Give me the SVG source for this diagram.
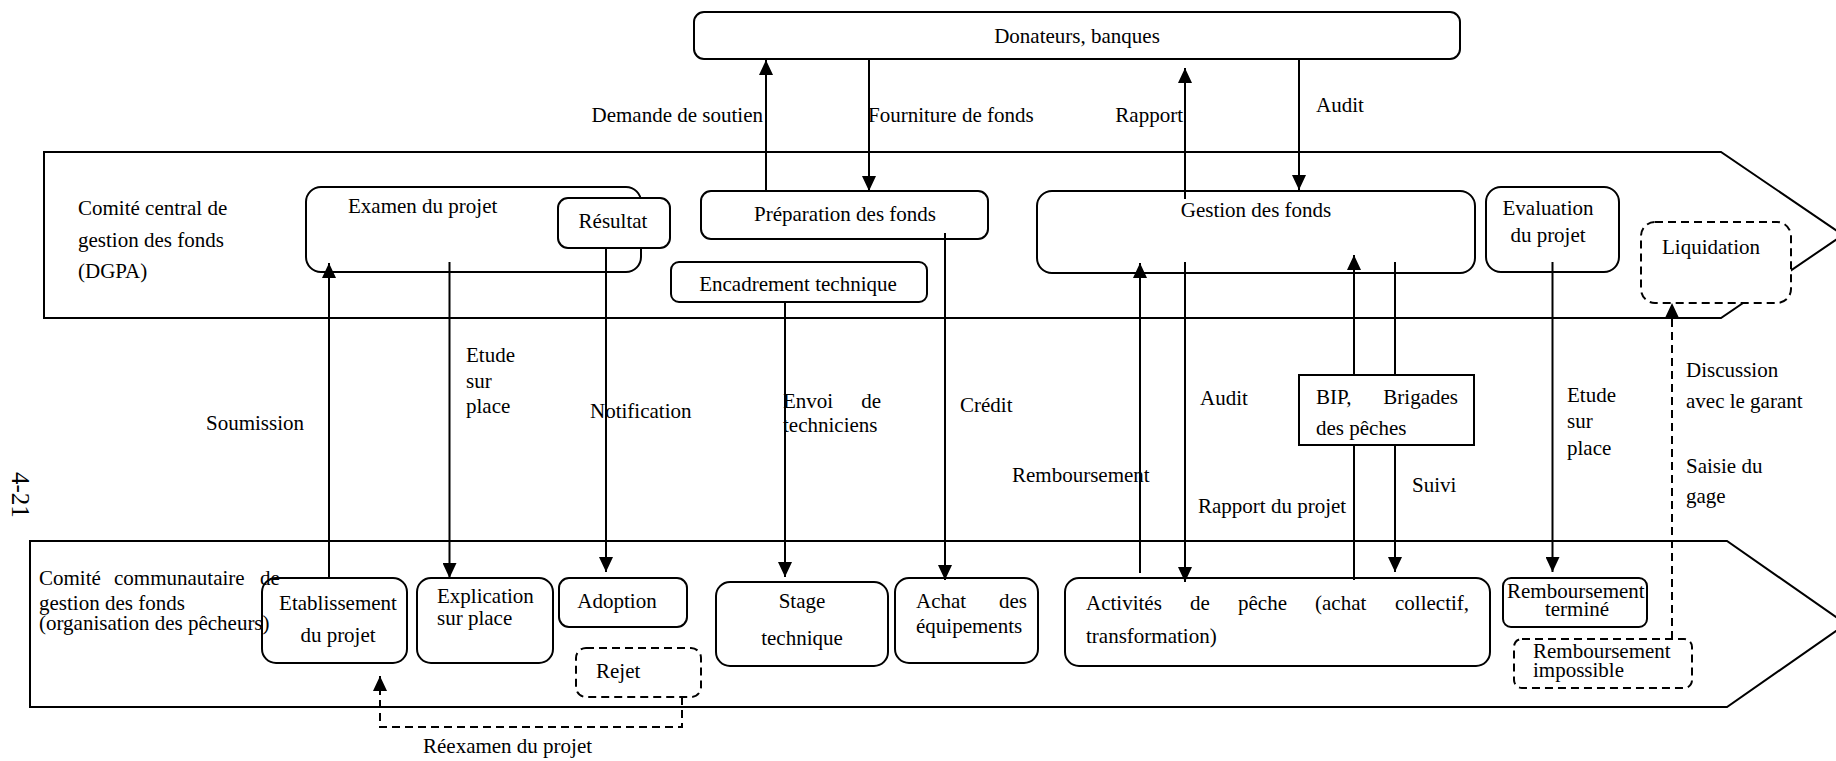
<svg xmlns="http://www.w3.org/2000/svg" width="1836" height="761" viewBox="0 0 1836 761" font-family="'Liberation Serif', 'DejaVu Serif', serif" font-size="21">
<style>
text{font-family:"Liberation Serif","DejaVu Serif",serif;font-size:21px;fill:#000}
.c{text-anchor:middle}
.e{text-anchor:end}
.lane{fill:none;stroke:#000;stroke-width:2}
.box{fill:none;stroke:#000;stroke-width:2}
.wbox{fill:#fff;stroke:#000;stroke-width:2}
.dbox{fill:#fff;stroke:#000;stroke-width:2;stroke-dasharray:8,5}
.ln{fill:none;stroke:#000;stroke-width:2;marker-end:url(#ah)}
.dl{fill:none;stroke:#000;stroke-width:2;stroke-dasharray:8,5;marker-end:url(#ah)}
</style>
<defs>
<marker id="ah" markerUnits="userSpaceOnUse" markerWidth="15" markerHeight="14" viewBox="0 0 15 14" refX="15" refY="7" orient="auto"><path d="M0,0 L15,7 L0,14 Z" fill="#000"/></marker>
</defs>
<rect width="1836" height="761" fill="#fff"/>

<g id="lanes">
<path class="lane" d="M44,152 H1721 L1843,235 L1721,318 H44 Z"/>
<path class="lane" d="M30,541 H1727 L1846,624 L1727,707 H30 Z"/>
<text x="78" y="215">Comité central de</text>
<text x="78" y="247">gestion des fonds</text>
<text x="78" y="278">(DGPA)</text>
<text x="39" y="585">Comité</text>
<text x="114" y="585">communautaire</text>
<text x="260" y="585">de</text>
<text x="39" y="610">gestion des fonds</text>
<text x="39" y="630">(organisation des pêcheurs)</text>
<text transform="translate(12,472) rotate(90)" style="font-size:25px">4-21</text>
</g>

<g id="donateurs"><rect class="box" x="694" y="12" width="766" height="47" rx="10"/><text class="c" x="1077" y="43">Donateurs, banques</text></g>
<g id="examen"><rect class="box" x="306" y="187" width="335" height="85" rx="15"/><text x="348" y="213">Examen du projet</text></g>
<g id="resultat"><rect class="wbox" x="558" y="198" width="112" height="50" rx="10"/><text class="c" x="613" y="228">Résultat</text></g>
<g id="preparation"><rect class="box" x="701" y="191" width="287" height="48" rx="10"/><text class="c" x="845" y="221">Préparation des fonds</text></g>
<g id="encadrement"><rect class="box" x="671" y="262" width="256" height="40" rx="8"/><text class="c" x="798" y="291">Encadrement technique</text></g>
<g id="gestion"><rect class="box" x="1037" y="191" width="438" height="82" rx="15"/><text class="c" x="1256" y="217">Gestion des fonds</text></g>
<g id="evaluation"><rect class="box" x="1486" y="187" width="133" height="85" rx="15"/><text class="c" x="1548" y="215">Evaluation</text><text class="c" x="1548" y="242">du projet</text></g>
<g id="liquidation"><rect class="dbox" x="1641" y="222" width="150" height="81" rx="14"/><text class="c" x="1711" y="254">Liquidation</text></g>
<g id="bip"><rect class="wbox" x="1299" y="375" width="175" height="70"/><text x="1316" y="404">BIP,</text><text class="e" x="1458" y="404">Brigades</text><text x="1316" y="435">des pêches</text></g>

<g id="etablissement"><rect class="box" x="262" y="578" width="145" height="85" rx="14"/><text class="c" x="338" y="610">Etablissement</text><text class="c" x="338" y="642">du projet</text></g>
<g id="explication"><rect class="box" x="417" y="578" width="136" height="85" rx="14"/><text x="437" y="603">Explication</text><text x="437" y="625">sur place</text></g>
<g id="adoption"><rect class="box" x="559" y="578" width="128" height="49" rx="10"/><text class="c" x="617" y="608">Adoption</text></g>
<g id="rejet"><rect class="dbox" x="576" y="648" width="125" height="49" rx="10"/><text x="596" y="678">Rejet</text></g>
<g id="stage"><rect class="box" x="716" y="582" width="172" height="84" rx="14"/><text class="c" x="802" y="608">Stage</text><text class="c" x="802" y="645">technique</text></g>
<g id="achat"><rect class="box" x="895" y="578" width="143" height="85" rx="14"/><text x="916" y="608">Achat</text><text class="e" x="1027" y="608">des</text><text x="916" y="633">équipements</text></g>
<g id="activites"><rect class="box" x="1065" y="578" width="425" height="88" rx="14"/><text x="1086" y="610">Activités</text><text x="1190" y="610">de</text><text x="1238" y="610">pêche</text><text x="1315" y="610">(achat</text><text x="1395" y="610">collectif,</text><text x="1086" y="643">transformation)</text></g>
<g id="remb-termine"><rect class="box" x="1503" y="578" width="144" height="49" rx="8"/><text x="1507" y="598">Remboursement</text><text class="c" x="1577" y="616">terminé</text></g>
<g id="remb-impossible"><rect class="dbox" x="1514" y="639" width="178" height="49" rx="8"/><text x="1533" y="658">Remboursement</text><text x="1533" y="677">impossible</text></g>

<g id="connectors">
<path class="ln" d="M766,191 V60"/>
<path class="ln" d="M869,60 V191"/>
<path class="ln" d="M1185,199 V68"/>
<path class="ln" d="M1299,60 V190"/>
<path class="ln" d="M329,577 V263"/>
<path class="ln" d="M449.5,262 V578"/>
<path class="ln" d="M606,248 V572"/>
<path class="ln" d="M785,302 V577"/>
<path class="ln" d="M945,233 V580"/>
<path class="ln" d="M1140,573 V263"/>
<path class="ln" d="M1185,262 V582"/>
<path class="ln" d="M1354,580 V445 M1354,375 V255"/>
<path class="ln" d="M1395,262 V375 M1395,445 V572"/>
<path class="ln" d="M1552.5,262 V572"/>
<path class="dl" d="M682,697 V727 H380 V676"/>
<path class="dl" d="M1672,639 V303"/>
<text class="e" x="763" y="122">Demande de soutien</text>
<text x="868" y="122">Fourniture de fonds</text>
<text class="e" x="1183" y="122">Rapport</text>
<text x="1316" y="112">Audit</text>
<text x="206" y="430">Soumission</text>
<text x="466" y="362">Etude</text>
<text x="466" y="388">sur</text>
<text x="466" y="413">place</text>
<text x="590" y="418">Notification</text>
<text x="783" y="408">Envoi</text>
<text class="e" x="881" y="408">de</text>
<text x="783" y="432">techniciens</text>
<text x="960" y="412">Crédit</text>
<text x="1012" y="482">Remboursement</text>
<text x="1200" y="405">Audit</text>
<text x="1198" y="513">Rapport du projet</text>
<text x="1412" y="492">Suivi</text>
<text x="1567" y="402">Etude</text>
<text x="1567" y="428">sur</text>
<text x="1567" y="455">place</text>
<text x="1686" y="377">Discussion</text>
<text x="1686" y="408">avec le garant</text>
<text x="1686" y="473">Saisie du</text>
<text x="1686" y="503">gage</text>
<text x="423" y="753">Réexamen du projet</text>
</g>
</svg>
